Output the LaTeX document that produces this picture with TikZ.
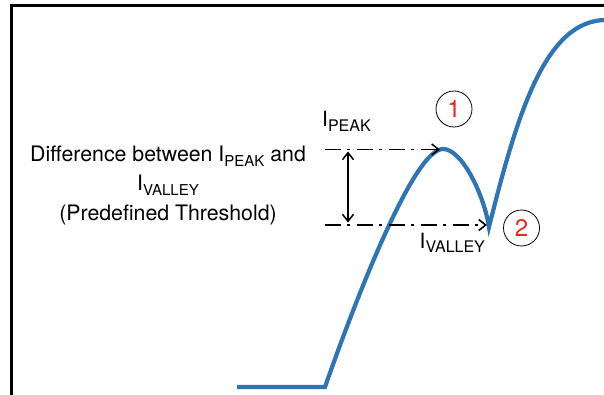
\documentclass[tikz,border=0pt]{standalone}
\usepackage{fontspec}
\setmainfont{TeX Gyre Heros}
\usetikzlibrary{arrows.meta}
\definecolor{curveblue}{RGB}{46,117,182}
\definecolor{numred}{RGB}{235,35,35}
\newcommand{\Isub}[2]{I\raisebox{-4.5pt}{\fontsize{#2}{#2}\selectfont #1}}
\tikzset{
  curve/.style={draw=curveblue, line width=4.2pt},
  frameline/.style={draw=black, line width=3pt},
  levelarrow/.style={line width=1.8pt, dash pattern=on 16pt off 6pt on 3pt off 7pt, -{Straight Barb[length=7pt,width=11pt,line width=1.6pt]}},
  diffarrow/.style={line width=1.5pt, {Straight Barb[length=7pt,width=11pt,line width=1.5pt]}-{Straight Barb[length=7pt,width=11pt,line width=1.5pt]}},
  numcircle/.style={circle, draw=black, line width=0.8pt, minimum size=36pt, inner sep=0pt, text=numred, font=\fontsize{24}{24}\selectfont},
  lbl/.style={font=\fontsize{21.3}{21.3}\selectfont, inner sep=0pt, anchor=base},
  biglbl/.style={font=\fontsize{21}{21}\selectfont, inner sep=0pt, anchor=base west}
}
\begin{document}
\begin{tikzpicture}[x=1pt,y=-1pt]
\useasboundingbox (0,0) rectangle (604,395);
% frame
\coordinate (ftl) at (11,5.5);
\coordinate (ftr) at (606,5.5);
\coordinate (fbl) at (11,397);
\draw[frameline] (fbl) -- (ftl) -- (ftr);
% curve
\coordinate (flat0) at (237,387);
\coordinate (knee) at (325,387);
\coordinate (peak) at (443,149);
\coordinate (valley) at (489,227);
\coordinate (top) at (606,20);
\draw[curve, line join=miter] (flat0) -- (knee)
  .. controls (360,287) and (415,149) .. (peak)
  .. controls (462,149) and (484,195) .. (valley)
  .. controls (517,115) and (545,20) .. (top);
% level arrows
\coordinate (pkstart) at (325,149.5);
\coordinate (pktip) at (440,149.5);
\coordinate (vlstart) at (325,225);
\coordinate (vltip) at (487,225);
\draw[levelarrow] (pkstart) -- (pktip);
\draw[levelarrow] (vlstart) -- (vltip);
\coordinate (dtop) at (348,151.5);
\coordinate (dbot) at (348,222.5);
\draw[diffarrow] (dtop) -- (dbot);
% labels
\node[biglbl] (ipeak) at (322,127) {\Isub{PEAK}{16}};
\node[biglbl] (ivalley) at (419.5,248) {\Isub{VALLEY}{16}};
\node[numcircle] (c1) at (454,109) {1};
\node[numcircle] (c2) at (521.5,228) {2};
% description
\node[lbl] (d1) at (168,161.7) {Difference between \Isub{PEAK}{15} and};
\node[lbl] (d2) at (168,191) {\Isub{VALLEY}{15}};
\node[lbl] (d3) at (168,220) {(Predefined Threshold)};
\end{tikzpicture}
\end{document}
